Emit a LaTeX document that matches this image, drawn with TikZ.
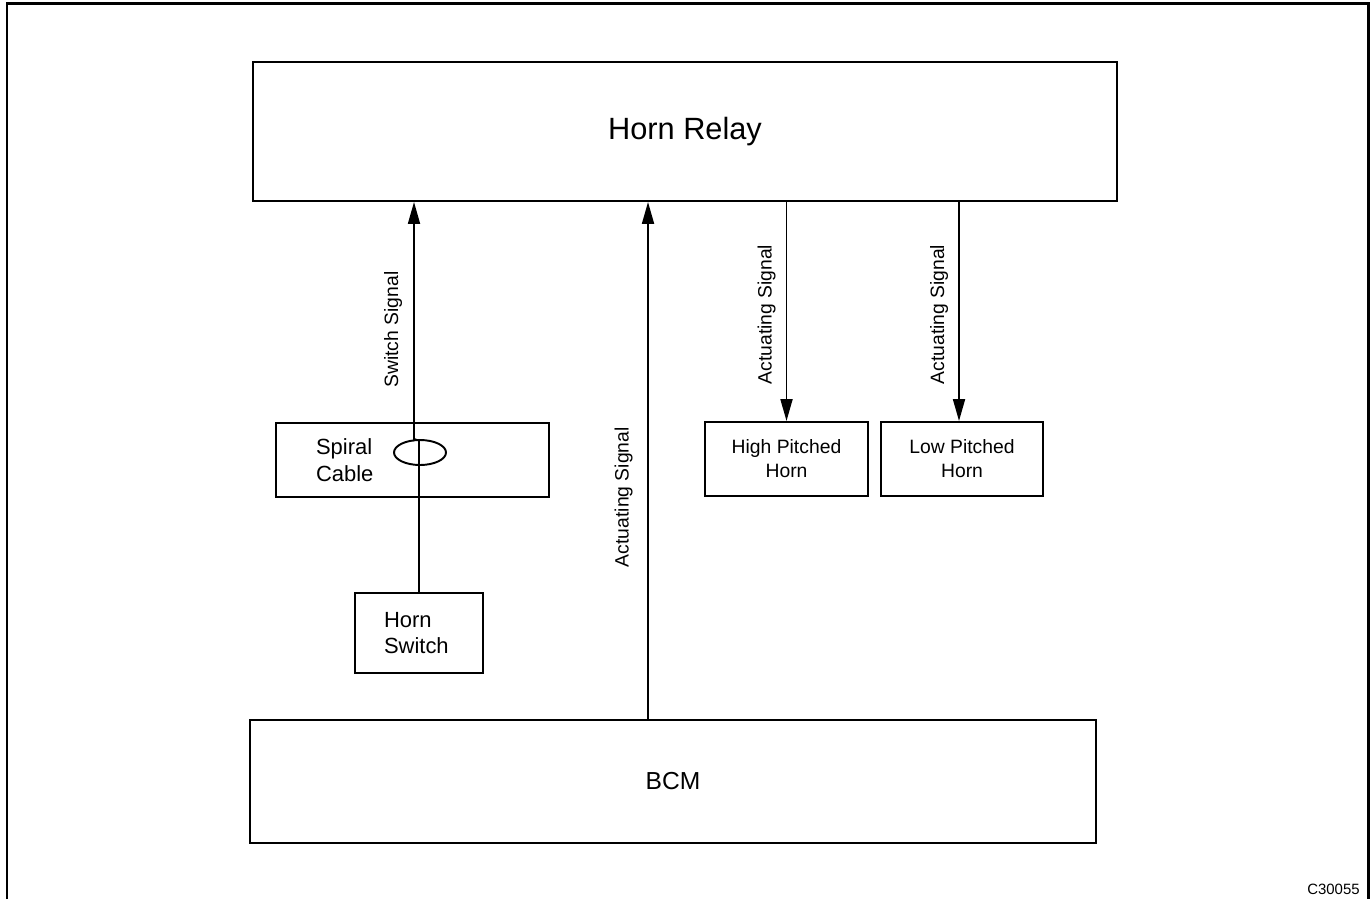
\documentclass[tikz,border=0pt]{standalone}
\usepackage{fontspec}
\setmainfont{Liberation Sans}
\usetikzlibrary{arrows.meta,shapes.geometric}
\tikzset{
    every node/.style={align=center,},
    block/.style={draw,rectangle,line width=1.1pt,inner sep=0pt,},
    wire/.style={line width=1.1pt,},
    sig/.style={wire,-{Triangle[length=12.5pt,width=6.8pt]},},
    siglabel/.style={rotate=90,anchor=base,yshift=11pt,inner sep=0pt,font=\fontsize{11}{13}\selectfont,},
}

\begin{document}
\begin{tikzpicture}[x=0.02cm,y=-0.02cm]
                \useasboundingbox (0,0) rectangle (1371,899);
                % outer frame, open at the bottom
                \draw[line width=1.5pt] (7,899) -- (7,3.5) -- (1368.5,3.5) -- (1368.5,899);

                \node[block,minimum width=17.28cm,minimum height=2.78cm,font=\fontsize{17.5}{20}\selectfont] (relay) at (685,131.5) {Horn Relay};
                \node[block,minimum width=16.92cm,minimum height=2.46cm,font=\fontsize{14}{16}\selectfont] (bcm) at (673,781.5) {BCM};

                \node[block,minimum width=5.46cm,minimum height=1.48cm,text width=3.86cm,align=left,font=\fontsize{12.5}{15.3}\selectfont] (spiral) at (412.5,460) {Spiral\\Cable};
                \node[block,minimum width=2.56cm,minimum height=1.6cm,text width=1.4cm,align=left,font=\fontsize{12.5}{15.3}\selectfont] (hornsw) at (419,633) {Horn\\Switch};

                \node[block,minimum width=3.26cm,minimum height=1.48cm,font=\fontsize{11}{13.6}\selectfont] (high) at (786.5,459) {High Pitched\\Horn};
                \node[block,minimum width=3.24cm,minimum height=1.48cm,font=\fontsize{11}{13.6}\selectfont] (low) at (962,459) {Low Pitched\\Horn};

                % coil of the spiral cable
                \node[draw,ellipse,line width=1.1pt,inner sep=0pt,minimum width=1.04cm,minimum height=0.5cm] (coil) at (420,452.5) {};
                \coordinate (swin) at (414,440);

                \draw[wire] (hornsw.north) -- (hornsw.north |- coil.north);
                \draw[sig] (coil.105) -- (swin) -- node[siglabel,pos=0.464,yshift=-2pt] {Switch Signal} (swin |- relay.south);

                \draw[sig] ([xshift=-0.5cm]bcm.north) -- node[siglabel,pos=0.429] {Actuating Signal} ([xshift=-0.74cm]relay.south);

                \draw[sig] (high.north |- relay.south) -- node[siglabel,pos=0.514,yshift=-2.5pt] {Actuating Signal} (high.north);
                \draw[sig] ([xshift=-0.06cm]low.north |- relay.south) -- node[siglabel,pos=0.514,yshift=-2.5pt] {Actuating Signal} ([xshift=-0.06cm]low.north);

                \node[anchor=base east,inner sep=0pt,font=\fontsize{8.5}{10}\selectfont] (code) at (1360,894) {C30055};
            \end{tikzpicture}
\end{document}
